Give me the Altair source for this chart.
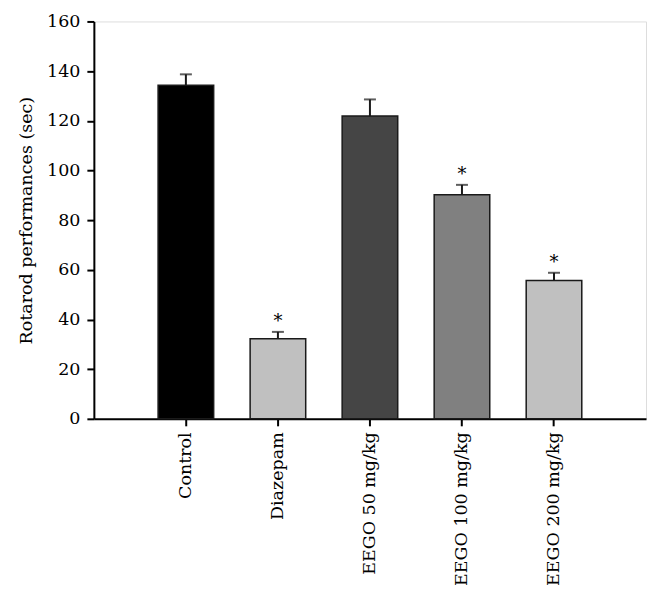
import altair as alt
import pandas as pd

groups = ["Control", "Diazepam", "EEGO 50 mg/kg", "EEGO 100 mg/kg", "EEGO 200 mg/kg"]
means = [134.3, 32.2, 121.9, 90.2, 55.7]
upper = [138.7, 35.0, 128.6, 94.2, 58.8]
stars = ["", "*", "", "*", "*"]
palette = ["#000000", "#c0c0c0", "#454545", "#808080", "#c0c0c0"]

df = pd.DataFrame({"group": groups, "mean": means, "upper": upper, "star": stars})

FONT = "DejaVu Serif"
FS = 17.5

x = alt.X(
    "group:N",
    sort=groups,
    title=None,
    scale=alt.Scale(paddingInner=0.396, paddingOuter=0.698),
    axis=alt.Axis(
        labelAngle=-90, labelFont=FONT, labelFontSize=FS, labelColor="#000",
        labelPadding=6, tickSize=7, tickColor="#000", tickWidth=2,
        domainColor="#000", domainWidth=2, grid=False,
    ),
)

y_axis = alt.Axis(
    values=[0, 20, 40, 60, 80, 100, 120, 140, 160],
    labelFont=FONT, labelFontSize=FS, labelColor="#000", labelPadding=7,
    tickSize=7, tickColor="#000", tickWidth=2, domainColor="#000", domainWidth=2,
    grid=False, titleFont=FONT, titleFontSize=FS, titleFontWeight="normal",
    titleColor="#000", titlePadding=11,
)

base = alt.Chart(df)

bars = base.mark_bar(stroke="#1a1a1a", strokeWidth=1.5).encode(
    x=x,
    y=alt.Y("mean:Q", title="Rotarod performances (sec)",
            scale=alt.Scale(domain=[0, 160], nice=False), axis=y_axis),
    fill=alt.Fill("group:N", sort=groups,
                  scale=alt.Scale(domain=groups, range=palette), legend=None),
)

err = base.mark_rule(color="#1a1a1a", strokeWidth=2).encode(
    x=alt.X("group:N", sort=groups),
    y="mean:Q",
    y2="upper:Q",
)

cap = base.mark_tick(color="#1a1a1a", thickness=2, size=12, orient="horizontal").encode(
    x=alt.X("group:N", sort=groups),
    y="upper:Q",
)

star_text = base.mark_text(font=FONT, fontSize=18, color="#000", baseline="middle", dy=-10).encode(
    x=alt.X("group:N", sort=groups),
    y="upper:Q",
    text="star:N",
)

chart = alt.layer(bars, err, cap, star_text).properties(
    width=553,
    height=398,
    autosize=alt.AutoSizeParams(type="none"),
    padding={"left": 86, "top": 13, "right": 8, "bottom": 180},
).configure_view(stroke=None).configure(background="white")

chart.save("out.html", embed_options={"renderer": "svg", "actions": False})
